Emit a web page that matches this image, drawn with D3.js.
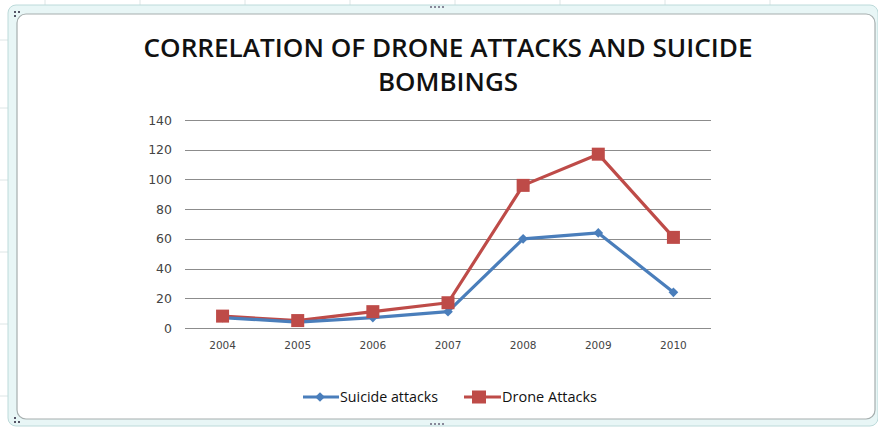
<!DOCTYPE html>
<html>
<head>
<meta charset="utf-8">
<script src="https://cdn.jsdelivr.net/npm/d3@7"></script>
<style>
  body { margin: 0; background: #fff; }
  svg { display: block; }
</style>
</head>
<body>
<svg id="chart" width="878" height="427"></svg>
<script>
// --- données ---
const years = ["2004", "2005", "2006", "2007", "2008", "2009", "2010"];
const suicideAttacks = [7, 4, 7, 11, 60, 64, 24];
const droneAttacks = [8, 5, 11, 17, 96, 117, 61];
const yTicks = [0, 20, 40, 60, 80, 100, 120, 140];
const seriesNames = ["Suicide attacks", "Drone Attacks"];
const titleLines = ["CORRELATION OF DRONE ATTACKS AND SUICIDE", "BOMBINGS"];

const svg = d3.select("#chart");
const W = 878, H = 427;

// fond "tableur" : lignes de la feuille derrière le graphique
const sheet = svg.append("g");
[0, 68, 140, 212, 284, 356].forEach(y => {
  sheet.append("line").attr("x1", 0).attr("x2", 12).attr("y1", y + 40).attr("y2", y + 40)
    .attr("stroke", "#dde6e6");
});
[45, 140, 245, 350, 455, 560, 665, 770].forEach(x => {
  sheet.append("line").attr("x1", x).attr("x2", x).attr("y1", 0).attr("y2", 8)
    .attr("stroke", "#dde6e6");
});

// cadre de sélection
svg.append("rect")
  .attr("x", 8).attr("y", 5).attr("width", W - 8).attr("height", H - 6)
  .attr("rx", 8)
  .attr("fill", "#e8f6f6").attr("stroke", "#bcdada");
svg.append("rect")
  .attr("x", 17).attr("y", 14).attr("width", W - 20).attr("height", H - 22)
  .attr("rx", 9)
  .attr("fill", "#fff").attr("stroke", "#a6aeae").attr("stroke-width", 1.2);

// petites poignées
[[14, 11], [18, 11], [14, 15], [14, 417], [18, 421], [14, 421]].forEach(([x, y]) => {
  svg.append("rect").attr("x", x).attr("y", y).attr("width", 2).attr("height", 2).attr("fill", "#556");
});
[430, 434, 438, 442].forEach(x => {
  svg.append("rect").attr("x", x).attr("y", 6).attr("width", 2).attr("height", 2).attr("fill", "#889");
  svg.append("rect").attr("x", x).attr("y", 423).attr("width", 2).attr("height", 2).attr("fill", "#889");
});

// titre
const title = svg.append("g")
  .style("font-family", "'Open Sans', 'DejaVu Sans', sans-serif")
  .style("font-weight", "600")
  .style("font-size", "25px")
  .attr("fill", "#111");
title.append("text").attr("x", 448).attr("y", 57)
  .attr("text-anchor", "middle")
  .attr("textLength", 609).attr("lengthAdjust", "spacingAndGlyphs")
  .text(titleLines[0]);
title.append("text").attr("x", 448).attr("y", 91)
  .attr("text-anchor", "middle")
  .attr("textLength", 140).attr("lengthAdjust", "spacingAndGlyphs")
  .text(titleLines[1]);

// échelles
const x = d3.scaleBand().domain(years).range([185, 711]);
const y = d3.scaleLinear().domain([0, 140]).range([328, 120]);
const cx = d => x(d) + x.bandwidth() / 2;

// grille
svg.append("g")
  .selectAll("line").data(yTicks).join("line")
  .attr("x1", 185).attr("x2", 711)
  .attr("y1", d => Math.round(y(d)) + 0.5).attr("y2", d => Math.round(y(d)) + 0.5)
  .attr("stroke", "#8c8c8c").attr("stroke-width", 1);

// axe Y
const yAxis = svg.append("g").attr("transform", "translate(172,0)")
  .call(d3.axisLeft(y).tickValues(yTicks).tickSize(0).tickPadding(0));
yAxis.select(".domain").remove();
yAxis.selectAll("text")
  .style("font-family", "'DejaVu Sans', sans-serif").style("font-size", "12.5px")
  .attr("fill", "#444");

// axe X
const xAxis = svg.append("g").attr("transform", "translate(0,342)")
  .call(d3.axisBottom(x).tickSize(0).tickPadding(0));
xAxis.select(".domain").remove();
xAxis.selectAll("text")
  .style("font-family", "'DejaVu Sans', sans-serif").style("font-size", "10.5px")
  .attr("fill", "#444");

// séries
const blue = "#4a7ebb", red = "#be4b48";
const line = d3.line().x((d, i) => cx(years[i])).y(d => y(d));

svg.append("path").datum(droneAttacks)
  .attr("d", line).attr("fill", "none")
  .attr("stroke", red).attr("stroke-width", 3.2).attr("stroke-linejoin", "round");
svg.append("path").datum(suicideAttacks)
  .attr("d", line).attr("fill", "none")
  .attr("stroke", blue).attr("stroke-width", 3.2).attr("stroke-linejoin", "round");

const diamond = d3.symbol().type(d3.symbolDiamond2).size(60);
svg.append("g").selectAll("path").data(suicideAttacks).join("path")
  .attr("d", diamond)
  .attr("transform", (d, i) => `translate(${cx(years[i])},${y(d)})`)
  .attr("fill", blue);

svg.append("g").selectAll("rect").data(droneAttacks).join("rect")
  .attr("x", (d, i) => cx(years[i]) - 6.5).attr("y", d => y(d) - 6.5)
  .attr("width", 13).attr("height", 13)
  .attr("fill", red);

// légende
const leg = svg.append("g")
  .style("font-family", "'Open Sans', 'DejaVu Sans', sans-serif")
  .style("font-size", "14px").attr("fill", "#111");
leg.append("line").attr("x1", 303).attr("x2", 339).attr("y1", 397).attr("y2", 397)
  .attr("stroke", blue).attr("stroke-width", 3.2);
leg.append("path").attr("d", diamond).attr("transform", "translate(320,397)").attr("fill", blue);
leg.append("text").attr("x", 340).attr("y", 402).text(seriesNames[0])
  .attr("textLength", 98).attr("lengthAdjust", "spacingAndGlyphs");
leg.append("line").attr("x1", 464).attr("x2", 501).attr("y1", 397).attr("y2", 397)
  .attr("stroke", red).attr("stroke-width", 3.2);
leg.append("rect").attr("x", 472).attr("y", 390.5).attr("width", 14).attr("height", 13).attr("fill", red);
leg.append("text").attr("x", 502).attr("y", 402).text(seriesNames[1])
  .attr("textLength", 95).attr("lengthAdjust", "spacingAndGlyphs");
</script>
</body>
</html>
